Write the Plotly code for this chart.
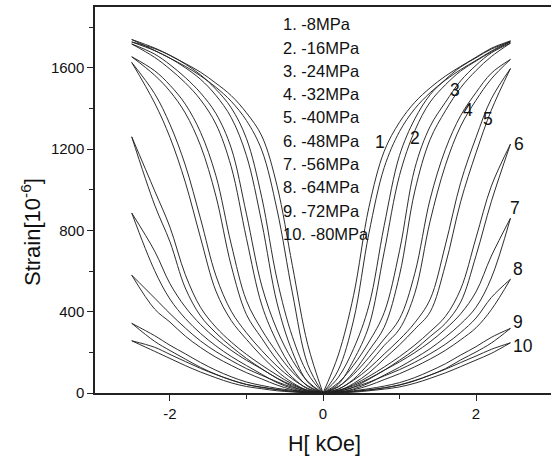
import plotly.graph_objects as go

# Compressive pre-stress for each magnetostriction loop
stress_mpa = [-8, -16, -24, -32, -40, -48, -56, -64, -72, -80]

# Field sample points (kOe) for the positive and negative halves of each sweep
field_right = [0, 0.2, 0.4, 0.6, 0.8, 1.0, 1.2, 1.4, 1.6, 1.8, 2.0, 2.2, 2.45]
field_left = [0, -0.2, -0.4, -0.6, -0.8, -1.0, -1.2, -1.4, -1.6, -1.8, -2.0, -2.2, -2.5]

# Strain (10^-6), positive field side: upper and lower branch of each loop
right_upper = [
    [0, 187, 481, 914, 1190, 1333, 1431, 1502, 1560, 1608, 1653, 1697, 1733],
    [0, 77, 218, 430, 825, 1169, 1349, 1468, 1543, 1605, 1650, 1693, 1728],
    [0, 50, 137, 251, 396, 700, 1106, 1312, 1431, 1537, 1613, 1674, 1722],
    [0, 32, 92, 175, 266, 365, 589, 954, 1199, 1366, 1479, 1574, 1642],
    [0, 20, 63, 121, 192, 263, 346, 461, 729, 1037, 1258, 1448, 1597],
    [0, 13, 41, 82, 128, 179, 236, 302, 377, 512, 764, 1018, 1225],
    [0, 12, 36, 71, 112, 153, 199, 252, 315, 390, 498, 674, 860],
    [0, 9, 28, 53, 84, 115, 151, 193, 240, 298, 369, 470, 560],
    [0, 4, 11, 21, 34, 51, 76, 108, 144, 187, 228, 274, 318],
    [0, 3, 8, 15, 25, 40, 62, 88, 117, 150, 182, 215, 247],
]
right_lower = [
    [0, 113, 359, 786, 1110, 1287, 1399, 1478, 1540, 1592, 1637, 1683, 1733],
    [0, 43, 162, 330, 695, 1071, 1291, 1432, 1517, 1585, 1634, 1679, 1728],
    [0, 30, 103, 209, 324, 580, 994, 1248, 1389, 1503, 1587, 1656, 1722],
    [0, 18, 68, 145, 234, 315, 491, 846, 1121, 1314, 1441, 1546, 1642],
    [0, 10, 47, 99, 168, 237, 314, 399, 631, 943, 1182, 1392, 1597],
    [0, 7, 29, 68, 112, 161, 214, 278, 343, 448, 676, 942, 1225],
    [0, 4, 20, 49, 88, 127, 171, 218, 275, 340, 422, 566, 860],
    [0, 3, 16, 37, 66, 95, 129, 167, 210, 262, 321, 410, 560],
    [0, 2, 7, 15, 26, 39, 60, 88, 120, 163, 202, 246, 318],
    [0, 1, 4, 11, 19, 30, 48, 72, 99, 130, 162, 195, 247],
]

# Strain (10^-6), negative field side: upper and lower branch of each loop
left_upper = [
    [0, 239, 627, 1019, 1265, 1379, 1464, 1525, 1579, 1622, 1662, 1698, 1740],
    [0, 96, 277, 558, 962, 1252, 1404, 1495, 1566, 1619, 1662, 1695, 1728],
    [0, 57, 161, 310, 527, 880, 1206, 1376, 1477, 1553, 1616, 1668, 1718],
    [0, 36, 103, 198, 311, 454, 733, 1070, 1283, 1422, 1515, 1586, 1655],
    [0, 23, 69, 132, 209, 296, 403, 578, 857, 1122, 1322, 1473, 1627],
    [0, 13, 44, 88, 137, 190, 251, 324, 421, 583, 816, 995, 1261],
    [0, 12, 38, 73, 118, 161, 210, 268, 337, 423, 538, 698, 886],
    [0, 9, 28, 55, 87, 120, 160, 204, 256, 320, 391, 467, 580],
    [0, 5, 13, 23, 37, 54, 80, 112, 150, 193, 235, 282, 343],
    [0, 3, 9, 17, 27, 42, 64, 91, 121, 155, 190, 225, 257],
]
left_lower = [
    [0, 141, 493, 901, 1195, 1341, 1436, 1505, 1561, 1608, 1648, 1686, 1740],
    [0, 54, 203, 442, 838, 1168, 1356, 1465, 1544, 1601, 1648, 1685, 1728],
    [0, 33, 119, 250, 433, 760, 1114, 1324, 1443, 1527, 1594, 1652, 1718],
    [0, 20, 77, 162, 269, 386, 627, 970, 1217, 1378, 1485, 1564, 1655],
    [0, 13, 51, 108, 181, 264, 357, 502, 763, 1038, 1258, 1427, 1627],
    [0, 7, 32, 72, 119, 170, 229, 296, 379, 517, 744, 925, 1261],
    [0, 4, 22, 51, 92, 135, 180, 232, 293, 367, 462, 602, 886],
    [0, 3, 16, 39, 69, 100, 136, 176, 224, 280, 349, 413, 580],
    [0, 1, 7, 17, 29, 42, 64, 92, 126, 167, 209, 254, 343],
    [0, 1, 5, 11, 21, 32, 50, 75, 103, 135, 170, 205, 257],
]

curve_numbers = [str(i + 1) for i in range(len(stress_mpa))]

LINE = dict(color="#222222", width=0.95, shape="spline", smoothing=1.0)
FONT = "Liberation Sans, Arial, sans-serif"

W, H = 551, 460
L, R, T, B = 95, 0, 7, 67


def px_to_paper(px, py):
    """Pixel position in the page -> paper fraction of the plot area."""
    return (px - L) / (W - L - R), (H - B - py) / (H - T - B)


fig = go.Figure()
for i in range(len(stress_mpa)):
    for hx, sy in ((field_right, right_upper[i]), (field_right, right_lower[i]),
                   (field_left, left_upper[i]), (field_left, left_lower[i])):
        fig.add_trace(go.Scatter(x=hx, y=sy, mode="lines", line=LINE,
                                 showlegend=False, hoverinfo="skip"))

# Stress key in the upper middle of the plot
for i, s in enumerate(stress_mpa):
    fig.add_annotation(x=-0.545, y=1815 - 114.7 * i, xref="x", yref="y",
                       text=f"{i + 1}. {s}MPa", showarrow=False,
                       xanchor="left", yanchor="middle",
                       font=dict(family=FONT, size=16.5, color="#111"))

# Curve numbers beside each loop
number_pos = [(0.74, 1236), (1.20, 1253), (1.72, 1491), (1.90, 1392), (2.16, 1351),
              (2.56, 1225), (2.51, 909), (2.55, 609), (2.55, 351), (2.61, 231)]
for num, (hx, sy) in zip(curve_numbers, number_pos):
    fig.add_annotation(x=hx, y=sy, xref="x", yref="y", text=num, showarrow=False,
                       xanchor="center", yanchor="middle",
                       font=dict(family=FONT, size=17.5, color="#111"))

# Axis titles
tx, ty = px_to_paper(31, 232)
fig.add_annotation(x=tx, y=ty, xref="paper", yref="paper", text="Strain[10<sup>-6</sup>]",
                   showarrow=False, textangle=-90, xanchor="center", yanchor="middle",
                   font=dict(family=FONT, size=22, color="#111"))
tx, ty = px_to_paper(324, 444)
fig.add_annotation(x=tx, y=ty, xref="paper", yref="paper", text="H[ kOe]",
                   showarrow=False, xanchor="center", yanchor="middle",
                   font=dict(family=FONT, size=21.5, color="#111"))

fig.update_layout(
    width=W, height=H,
    margin=dict(l=L, r=R, t=T, b=B),
    paper_bgcolor="white", plot_bgcolor="white",
    font=dict(family=FONT, color="#111"),
    xaxis=dict(range=[-2.98, 2.98], tickmode="array", tickvals=[-2, 0, 2],
               ticktext=["-2", "0", "2"], ticks="outside", ticklen=6, tickwidth=1.3,
               tickcolor="#222", showline=True, linecolor="#222", linewidth=1.5,
               mirror=True, showgrid=False, zeroline=False,
               tickfont=dict(family=FONT, size=15, color="#111"),
               minor=dict(tickvals=[-1, 1], ticks="outside", ticklen=4,
                          tickwidth=1.3, tickcolor="#222")),
    yaxis=dict(range=[0, 1900], tickmode="array", tickvals=[0, 400, 800, 1200, 1600],
               ticks="outside", ticklen=6, tickwidth=1.3, tickcolor="#222",
               showline=True, linecolor="#222", linewidth=1.5, showgrid=False,
               zeroline=False, tickfont=dict(family=FONT, size=15, color="#111"),
               minor=dict(tickvals=[200, 600, 1000, 1400, 1800], ticks="outside",
                          ticklen=4, tickwidth=1.3, tickcolor="#222")),
)

fig.write_html("out.html")
